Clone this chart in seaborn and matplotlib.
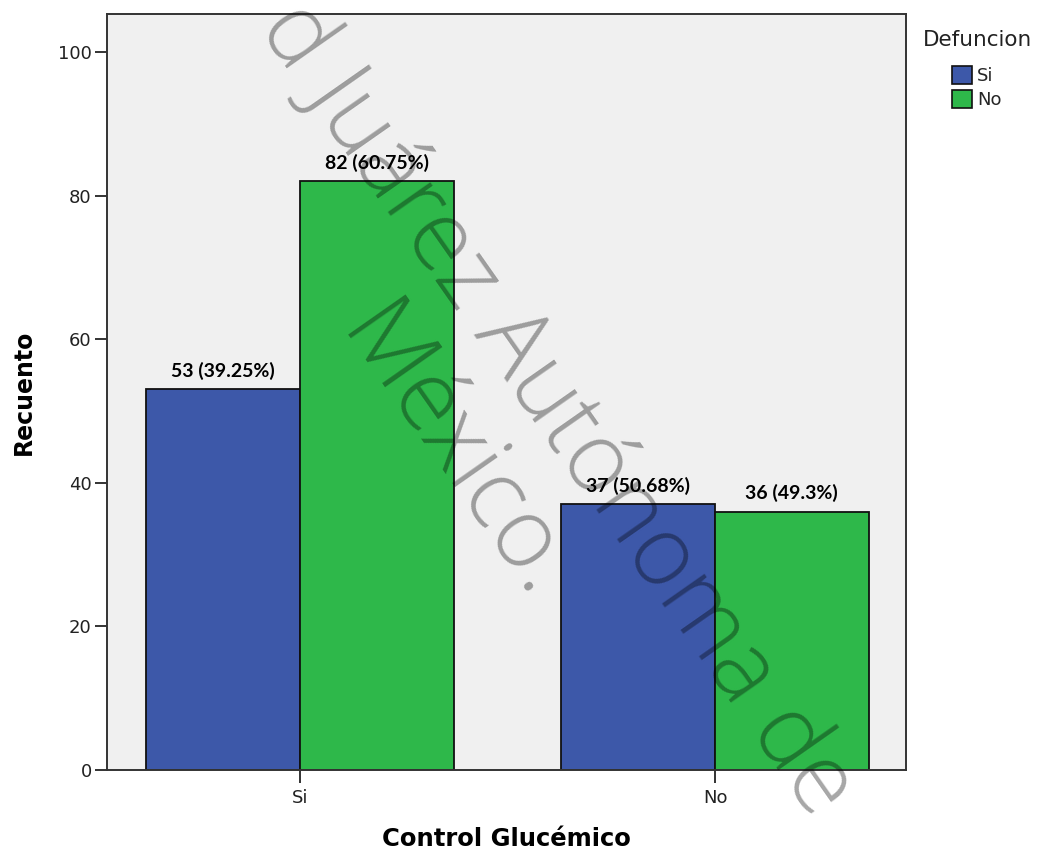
import matplotlib
matplotlib.use("Agg")
import matplotlib.pyplot as plt
from matplotlib.patches import Patch
import seaborn as sns
import pandas as pd

# ---- data ----
control_levels = ["Si", "No"]
defuncion_levels = ["Si", "No"]
counts_defuncion_si = [53, 37]
counts_defuncion_no = [82, 36]
pct_defuncion_si = ["39.25", "50.68"]
pct_defuncion_no = ["60.75", "49.3"]
y_ticks = [0, 20, 40, 60, 80, 100]

colors = ["#3D58A9", "#2EB84A"]

df = pd.DataFrame({
    "Control Glucémico": control_levels * 2,
    "Defuncion": [defuncion_levels[0]] * 2 + [defuncion_levels[1]] * 2,
    "Recuento": counts_defuncion_si + counts_defuncion_no,
})

sns.set_theme(style="white")
plt.rcParams["font.family"] = ["DejaVu Sans"]

W, H = 1038, 852
fig = plt.figure(figsize=(W / 100, H / 100), dpi=100)
ax = fig.add_axes([107 / W, 1 - 770 / H, (906 - 107) / W, (770 - 14) / H])
ax.set_facecolor("#F0F0F0")

sns.barplot(data=df, x="Control Glucémico", y="Recuento", hue="Defuncion",
            order=control_levels, hue_order=defuncion_levels, palette=colors,
            saturation=1, width=0.74, edgecolor="#111111", linewidth=1.3,
            errorbar=None, ax=ax, legend=False)

ax.set_xlim(-0.465, 1.46)
ax.set_ylim(0, 105.3)
ax.set_yticks(y_ticks)

label_sets = [
    [f"{c} ({p}%)" for c, p in zip(counts_defuncion_si, pct_defuncion_si)],
    [f"{c} ({p}%)" for c, p in zip(counts_defuncion_no, pct_defuncion_no)],
]
for cont, labs in zip(ax.containers, label_sets):
    ax.bar_label(cont, labels=labs, padding=7, fontsize=14, fontweight="bold",
                 family="Lato", color="black")

for s in ax.spines.values():
    s.set_visible(True)
    s.set_color("#333333")
    s.set_linewidth(1.4)

ax.tick_params(axis="both", direction="out", length=9, width=1.4,
               color="#333333", labelsize=13, labelcolor="#222222",
               left=True, bottom=True)
ax.tick_params(axis="y", pad=2)
ax.tick_params(axis="x", pad=5)

ax.set_xlabel("Control Glucémico", fontsize=17.5, fontweight="bold",
              labelpad=14, color="black")
ax.set_ylabel("Recuento", fontsize=17, fontweight="bold", labelpad=16,
              color="black")

# legend: title as text, entries as legend
fig.text(923 / W, 1 - 40 / H, "Defuncion", fontsize=15.5, color="#222222",
         ha="left", va="center")
handles = [Patch(facecolor=c, edgecolor="#111111", linewidth=1.2) for c in colors]
ax.legend(handles, defuncion_levels, loc="upper left",
          bbox_to_anchor=(952 / W, 1 - 66 / H), bbox_transform=fig.transFigure,
          frameon=False, fontsize=13, handlelength=1.1,
          handleheight=1.15, handletextpad=0.3, labelspacing=0.25, borderpad=0,
          borderaxespad=0)

# watermark
wm_kw = dict(rotation=-55, rotation_mode="anchor", ha="left", va="baseline",
             fontsize=70, family="Open Sans", fontweight="light",
             color="black", alpha=0.35, zorder=10)
fig.text(258 / W, 1 - 28 / H, "d Juárez Autónoma de", **wm_kw)
fig.text(337 / W, 1 - 333 / H, "México.", **wm_kw)

fig.savefig("out.png", dpi=100)
